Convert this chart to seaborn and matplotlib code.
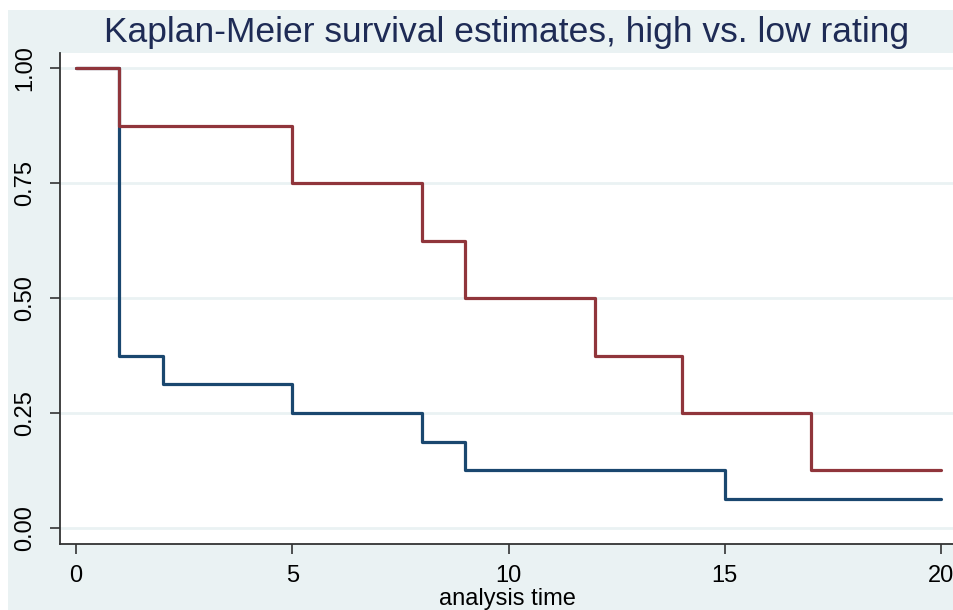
import matplotlib
matplotlib.use("Agg")
import matplotlib.pyplot as plt
import seaborn as sns
import pandas as pd
from matplotlib.patches import Rectangle

# Data (Kaplan-Meier step estimates)
time_high = [0, 1, 5, 8, 9, 12, 14, 17, 20]
surv_high = [1.0, 0.875, 0.75, 0.625, 0.5, 0.375, 0.25, 0.125, 0.125]
time_low = [0, 1, 2, 5, 8, 9, 15, 20]
surv_low = [1.0, 0.375, 0.3125, 0.25, 0.1875, 0.125, 0.0625, 0.0625]
x_ticks = [0, 5, 10, 15, 20]
y_ticks = [0.0, 0.25, 0.5, 0.75, 1.0]
y_ticklabels = ["0.00", "0.25", "0.50", "0.75", "1.00"]
title = "Kaplan-Meier survival estimates, high vs. low rating"
xlabel = "analysis time"

df = pd.concat([
    pd.DataFrame({"time": time_low, "surv": surv_low, "group": "low"}),
    pd.DataFrame({"time": time_high, "surv": surv_high, "group": "high"}),
], ignore_index=True)

sns.set_theme(style="white")
plt.rcParams["font.family"] = ["Liberation Sans", "DejaVu Sans"]

W, H = 954, 610
fig = plt.figure(figsize=(W / 100, H / 100), dpi=100)
fig.patch.set_facecolor("white")
bg = "#eaf2f3"
fig.patches.append(Rectangle((8 / W, 0), 1 - 8 / W, 1 - 10 / H,
                             transform=fig.transFigure, facecolor=bg,
                             edgecolor="none", zorder=-10))

left, right, top, bottom = 60, 954, 53, 544
ax = fig.add_axes([left / W, 1 - bottom / H, (right - left) / W, (bottom - top) / H])
ax.set_facecolor("white")

sns.lineplot(data=df, x="time", y="surv", hue="group", hue_order=["low", "high"],
             palette={"low": "#1a476f", "high": "#90353b"},
             drawstyle="steps-post", estimator=None, sort=False,
             linewidth=2.3, legend=False, ax=ax)

ax.set_xlim(-0.37, 20.3)
ax.set_ylim(-0.035, 1.033)
ax.set_xticks(x_ticks)
ax.set_xticklabels([str(t) for t in x_ticks], fontsize=17, color="black")
ax.set_yticks(y_ticks)
ax.set_yticklabels(y_ticklabels, fontsize=17, rotation=90, va="center", color="black")
for g in y_ticks:
    ax.axhline(g, color=bg, linewidth=2, zorder=0)

for s in ["top", "right"]:
    ax.spines[s].set_visible(False)
for s in ["left", "bottom"]:
    ax.spines[s].set_color("#333333")
    ax.spines[s].set_linewidth(1.3)
ax.tick_params(axis="both", direction="out", length=7, width=1.2, color="#333333",
               left=True, bottom=True)
ax.tick_params(axis="x", pad=8)
ax.tick_params(axis="y", pad=10)

ax.set_xlabel(xlabel, fontsize=17, color="black", labelpad=1)
ax.set_ylabel("")
ax.set_title(title, fontsize=25.5, color="#1e2b55", pad=8)

fig.savefig("out.png", dpi=100)
